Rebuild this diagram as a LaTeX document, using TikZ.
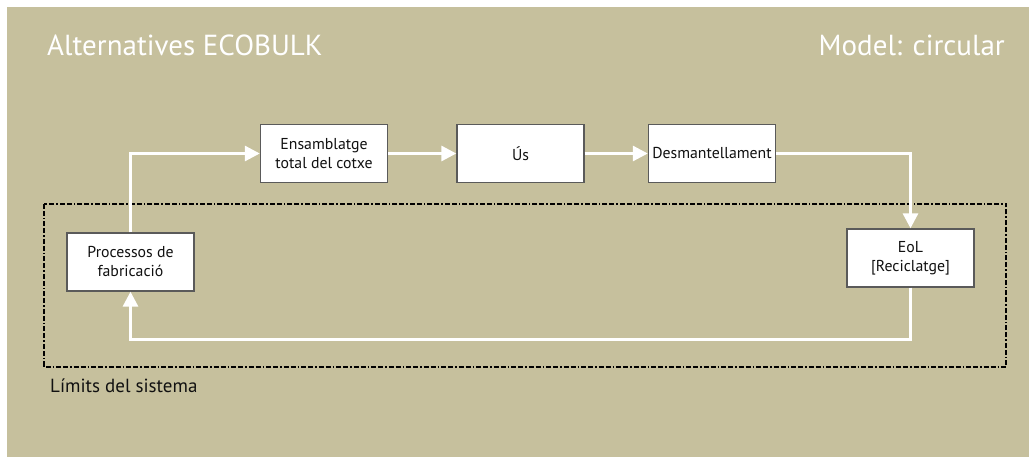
\documentclass[tikz,border=0pt]{standalone}
\usepackage{fontspec}
\setmainfont{PT Sans}
\usetikzlibrary{arrows.meta}
\definecolor{khaki}{HTML}{C6C09D}
\definecolor{boxedge}{HTML}{5A5A5A}
\definecolor{ink}{HTML}{111111}
\begin{document}
\begin{tikzpicture}[x=1pt,y=-1pt,
  stagebox/.style={draw=boxedge, line width=1.4pt, fill=white, text=ink,
    minimum width=127pt, minimum height=58pt, inner sep=2pt, align=center,
    font=\fontsize{15.8}{19}\selectfont},
  flow/.style={draw=white, line width=3pt,
    -{Triangle[length=15pt,width=15pt]}},
  boundary/.style={draw=black, line width=2pt,
    dash pattern=on 5pt off 2pt on 5pt off 2pt on 1.5pt off 2pt},
  heading/.style={text=white, font=\fontsize{29}{33}\selectfont, inner sep=0pt}
]
\useasboundingbox (0,0) rectangle (1029,457);
\fill[white] (0,0) rectangle (1029,457);
\fill[khaki] (7,7) rectangle (1029,457);

% titles
\node[heading, anchor=base west] (title) at (47,56) {Alternatives ECOBULK};
\node[heading, anchor=base east] (model) at (1005,56) {Model: circular};

% system boundary
\draw[boundary] (44,204) rectangle (1006,367);
\node[anchor=base west, inner sep=0pt, text=ink,
  font=\fontsize{19}{22}\selectfont] (limits) at (50,392) {Límits del sistema};

% process stages
\node[stagebox] (fab) at (130.5,262) {Processos de\\fabricació};
\node[stagebox] (ens) at (324,153.5) {Ensamblatge\\total del cotxe};
\node[stagebox] (us)  at (520.5,153.5) {Ús};
\node[stagebox] (des) at (712,153.5) {Desmantellament};
\node[stagebox] (eol) at (910.5,258) {EoL\\{[Reciclatge]}};

% material flow
\draw[flow] (fab.north) |- (ens.west);
\draw[flow] (ens.east) -- (us.west);
\draw[flow] (us.east) -- (des.west);
\draw[flow] (des.east) -| (eol.north);
\coordinate (ret) at (910.5,340);
\draw[flow] (eol.south) -- (ret) -| (fab.south);
\end{tikzpicture}
\end{document}
